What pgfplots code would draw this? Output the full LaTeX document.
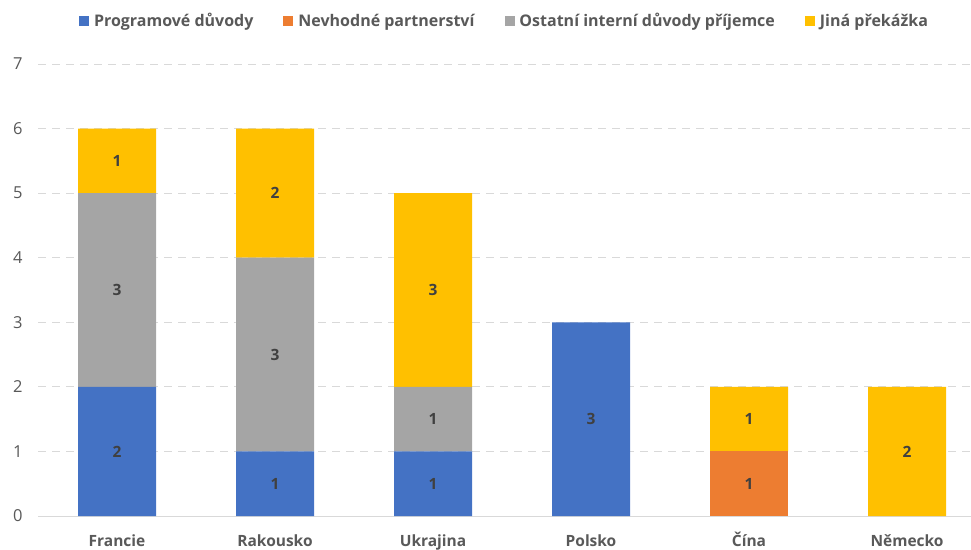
\documentclass[border=0pt]{standalone}
\usepackage{pgfplots}
\pgfplotsset{compat=1.18}
\usepackage{fontspec}
\setmainfont{Open Sans}
\definecolor{cblue}{HTML}{4472C4}
\definecolor{corange}{HTML}{ED7D31}
\definecolor{cgray}{HTML}{A5A5A5}
\definecolor{cyellow}{HTML}{FFC000}
\definecolor{ctext}{HTML}{595959}
\definecolor{clab}{HTML}{404040}
\definecolor{cgrid}{HTML}{D9D9D9}
\begin{document}
\begin{tikzpicture}
\begin{axis}[
  at={(0,0)}, anchor=south west,
  scale only axis, width=933pt, height=452pt,
  xmin=-0.5, xmax=5.405, ymin=0, ymax=7,
  ybar stacked, bar width=78pt,
  axis line style={draw=none},
  tick style={draw=none},
  /pgf/number format/assume math mode=true,
  ytick={1,2,3,4,5,6,7},
  extra y ticks={0}, extra y tick labels={0},
  extra y tick style={major grid style={solid, cgrid, line width=1pt}},
  ymajorgrids,
  major grid style={cgrid, line width=1pt, dash pattern=on 8pt off 6pt},
  yticklabel shift=12pt,
  yticklabel style={font=\fontsize{16.5}{19}\selectfont, color=ctext},
  xtick={0,1,2,3,4,5},
  xticklabels={Francie,Rakousko,Ukrajina,Polsko,Čína,Německo},
  xticklabel style={font=\fontsize{15.5}{18}\selectfont\bfseries, color=ctext, anchor=base, yshift=-30pt},
  legend style={at={(0.5,1)}, anchor=center, yshift=43pt, draw=none,
    font=\fontsize{16}{19}\selectfont\bfseries, text=ctext,
    /tikz/every even column/.append style={column sep=28pt}},
  legend columns=-1,
  legend image code/.code={\fill[#1] (0pt,-5pt) rectangle (10pt,5pt); \path (13pt,0pt);},
  visualization depends on=rawy \as \rawy,
  nodes near coords={\ifdim\rawy pt>0pt \pgfmathprintnumber{\rawy}\fi},
  every node near coord/.append style={anchor=center,
    font=\fontsize{15.5}{18}\selectfont\bfseries, color=clab},
]
\addplot[fill=cblue, draw=none] coordinates {(0,2) (1,1) (2,1) (3,3) (4,0) (5,0)};
\addplot[fill=corange, draw=none] coordinates {(0,0) (1,0) (2,0) (3,0) (4,1) (5,0)};
\addplot[fill=cgray, draw=none] coordinates {(0,3) (1,3) (2,1) (3,0) (4,0) (5,0)};
\addplot[fill=cyellow, draw=none] coordinates {(0,1) (1,2) (2,3) (3,0) (4,1) (5,2)};
\legend{Programové důvody, Nevhodné partnerství, Ostatní interní důvody příjemce, Jiná překážka}
\end{axis}
\pgfresetboundingbox
\useasboundingbox (-38pt,-33pt) rectangle (933pt,516pt);
\end{tikzpicture}
\end{document}
